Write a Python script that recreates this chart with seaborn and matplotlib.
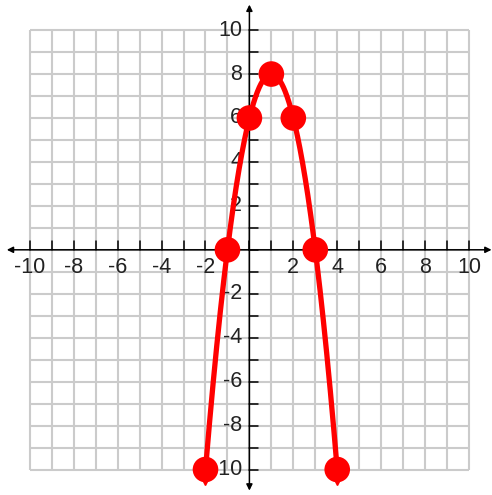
import numpy as np
import pandas as pd
import matplotlib
matplotlib.use("Agg")
import matplotlib.pyplot as plt
import matplotlib.transforms as mtransforms
import seaborn as sns

# Plotted points of the parabola
x_points = [-2, -1, 0, 1, 2, 3, 4]
y_points = [-10, 0, 6, 8, 6, 0, -10]

# Axis tick labels
x_tick_labels = [-10, -8, -6, -4, -2, 2, 4, 6, 8, 10]
y_tick_labels = [-10, -8, -6, -4, -2, 2, 4, 6, 8, 10]
grid_values = list(range(-10, 11))

sns.set_theme(style="white")
plt.rcParams["font.family"] = ["Liberation Sans", "DejaVu Sans"]

fig = plt.figure(figsize=(4.92, 4.95), dpi=100)
ax = fig.add_axes([0, 0, 1, 1])
ax.set_xlim(-11.36, 11.05)
ax.set_ylim(-11.16, 11.37)
ax.set_axis_off()

# Light grid, one line per unit
for g in grid_values:
    ax.plot([g, g], [-10, 10], color="#cbcbcb", lw=1.5, zorder=1, solid_capstyle="butt")
    ax.plot([-10, 10], [g, g], color="#cbcbcb", lw=1.5, zorder=1, solid_capstyle="butt")

# Coordinate axes with arrowheads at both ends
arrow_kw = dict(arrowstyle="<|-|>", color="black", lw=1.1, mutation_scale=9,
                shrinkA=0, shrinkB=0)
ax.annotate("", xy=(11.03, 0), xytext=(-11.05, 0), arrowprops=arrow_kw, zorder=2)
ax.annotate("", xy=(0, 11.16), xytext=(0, -10.96), arrowprops=arrow_kw, zorder=2)

# Unit ticks on the axes
for g in grid_values:
    ax.plot([g, g], [0, 0.4], color="black", lw=1.1, zorder=2)
    ax.plot([0, 0.37], [g, g], color="black", lw=1.1, zorder=2)

# Tick labels
for v in x_tick_labels:
    ax.text(v, -0.82, f"{v}".replace("\u2212", "-"), ha="center", va="center",
            fontsize=15.5, color="#222222", zorder=2)
for v in y_tick_labels:
    ax.text(-0.33, v, f"{v}".replace("\u2212", "-"), ha="right", va="center",
            fontsize=15.5, color="#222222", zorder=2)

# Quadratic through the plotted points
coef = np.polyfit(x_points, y_points, 2)
xs = np.linspace(min(x_points), max(x_points), 400)
curve = pd.DataFrame({"x": xs, "y": np.polyval(coef, xs)})
pts = pd.DataFrame({"x": x_points, "y": y_points})

sns.lineplot(data=curve, x="x", y="y", ax=ax, color="#ff0000", lw=3.8,
             zorder=4, sort=False)

# Arrow tips at the ends of the curve
ends = pts.iloc[[0, -1]]
tip_transform = mtransforms.offset_copy(ax.transData, fig=fig, x=0, y=-7, units="points")
ax.plot(ends["x"], ends["y"], linestyle="none", marker="v", markersize=8,
        color="#ff0000", transform=tip_transform, zorder=4)

sns.scatterplot(data=pts, x="x", y="y", ax=ax, color="#ff0000", s=340,
                edgecolor="none", linewidth=0, zorder=5, legend=False)

ax.set_xlabel("")
ax.set_ylabel("")
fig.savefig("out.png", dpi=100)
